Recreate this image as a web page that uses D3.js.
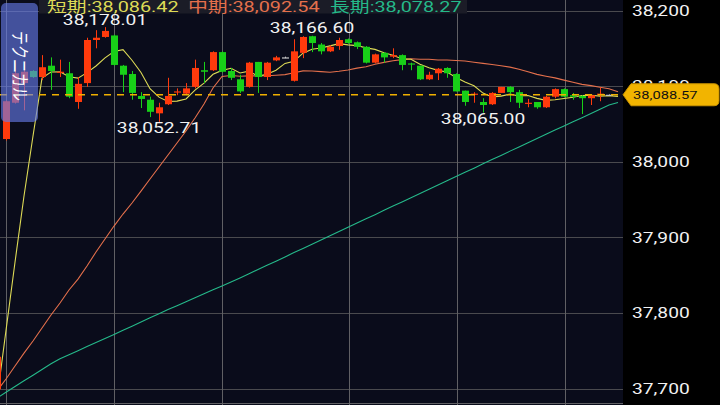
<!DOCTYPE html>
<html><head><meta charset="utf-8">
<script src="https://cdn.jsdelivr.net/npm/d3@7"></script>
<style>html,body{margin:0;padding:0;background:#000;overflow:hidden}svg{display:block}</style>
</head><body>
<svg id="c" width="720" height="405"></svg>
<script>
// ---- data ----
const opens = [37699, 38030, 38078, 38104, 38120, 38112, 38127, 38118, 38117, 38079,
 38104, 38161, 38165, 38167, 38127, 38116, 38087, 38082, 38064, 38076,
 38092, 38090, 38099, 38121, 38121, 38145, 38120, 38109, 38099, 38132,
 38112, 38134, 38138, 38107, 38144, 38166, 38155, 38146, 38153, 38162,
 38158, 38152, 38131, 38144, 38139, 38141, 38130, 38127, 38109, 38117,
 38124, 38116, 38094, 38089, 38079, 38076, 38091, 38099, 38092, 38077,
 38079, 38072, 38086, 38096, 38088, 38087, 38084, 38089, 38088.57];
const highs = [37746, 38081, 38131, 38131, 38121, 38141, 38138, 38135, 38132, 38112,
 38164, 38174, 38178.01, 38168, 38128, 38120, 38092, 38086, 38078, 38111,
 38097, 38104, 38135, 38132, 38146, 38146, 38124, 38115, 38132, 38132,
 38132, 38140, 38139, 38162, 38166, 38166.60, 38157, 38154, 38164, 38163,
 38159, 38153, 38143, 38145, 38150, 38142, 38131, 38127, 38119, 38124,
 38125, 38117, 38094, 38092, 38084, 38092, 38099, 38100, 38095, 38083,
 38079, 38087, 38097, 38097, 38091, 38088, 38088, 38098, 38089];
const lows = [37696, 38028, 38077, 38068, 38111, 38108, 38095, 38112, 38084, 38070,
 38099, 38150, 38164, 38127, 38092, 38082, 38071, 38059, 38052.71, 38075,
 38088, 38088, 38097, 38104, 38120, 38118, 38108, 38091, 38098, 38091,
 38108, 38133, 38137, 38106, 38137, 38145, 38142, 38145, 38148, 38156,
 38149, 38130, 38130, 38131, 38137, 38121, 38121, 38108, 38108, 38108,
 38111, 38093, 38074, 38078, 38065.00, 38075, 38091, 38079, 38071, 38072,
 38070, 38071, 38084, 38085, 38082, 38063, 38075, 38080, 38088];
const closes = [37742, 38080, 38117, 38119, 38112, 38125, 38120, 38119, 38086, 38103,
 38161, 38164, 38173, 38128, 38115, 38091, 38083, 38066, 38072, 38087,
 38093, 38097, 38124, 38119, 38145, 38119, 38111, 38093, 38131, 38112,
 38131, 38138, 38138, 38146, 38165, 38157, 38146, 38152, 38161, 38157,
 38152, 38131, 38142, 38138, 38141, 38128, 38129, 38109, 38115, 38123,
 38117, 38093, 38079, 38090, 38075, 38091, 38099, 38092, 38078, 38078,
 38072, 38086, 38096, 38086, 38086, 38084, 38088, 38090, 38088.57];
const maShort = [37686, 37777, 37867, 37954.6, 38034, 38110.6, 38118.6, 38119, 38112.4, 38110.6,
 38117.8, 38126.6, 38137.4, 38145.8, 38148.2, 38134.2, 38118, 38096.6, 38085.4, 38079.8,
 38080.2, 38083, 38094.6, 38104, 38115.6, 38120.8, 38123.6, 38117.4, 38119.8, 38113.2,
 38115.6, 38121, 38130, 38133, 38143.6, 38148.8, 38150.4, 38153.2, 38156.2, 38154.6,
 38153.6, 38150.6, 38148.6, 38144, 38140.8, 38136, 38135.6, 38129, 38124.4, 38120.8,
 38118.6, 38111.4, 38105.4, 38100.4, 38090.8, 38085.6, 38086.8, 38089.4, 38087, 38087.6,
 38083.8, 38081.2, 38082, 38083.6, 38085.2, 38087.6, 38088, 38086.8, 38087.3, 38086.42];
const maMid = [37696.7, 37712.6, 37729.8, 37746.9, 37762.8, 37780, 37797.2, 37813.1, 37830.3, 37844.8,
 37862, 37880.6, 37897.7, 37914.9, 37930.8, 37945.4, 37961.2, 37977.1, 37993, 38008.9,
 38024.7, 38040.6, 38057.8, 38076.3, 38097.5, 38112.7, 38114, 38113, 38113.5, 38113.5,
 38113.7, 38114.4, 38115.2, 38117.6, 38120.1, 38119.9, 38119.2, 38118.4, 38119.7, 38121.4,
 38123.8, 38125.7, 38128.8, 38131.4, 38133.6, 38135, 38136.2, 38135.6, 38135.5, 38134.6,
 38134.5, 38133.8, 38133.2, 38131.6, 38130.1, 38128.5, 38127, 38125.1, 38122.4, 38118.9,
 38115.5, 38113.1, 38110.9, 38107.9, 38105, 38102.3, 38100.6, 38098.5, 38096.5, 38092.54];
const maLong = [37687.4, 37695.1, 37702.6, 37710.2, 37717.6, 37725.1, 37732.7, 37739.5, 37744.8, 37750.1,
 37755.5, 37760.8, 37766.3, 37771.6, 37777.1, 37782.5, 37788, 37793.5, 37798.9, 37804.4,
 37809.6, 37814.8, 37820.1, 37825.3, 37830.5, 37835.7, 37841, 37846.2, 37851.7, 37857.4,
 37863, 37868.5, 37874.1, 37879.8, 37885.3, 37890.9, 37896.6, 37902.1, 37907.7, 37913.2,
 37918.9, 37924.5, 37930, 37935.7, 37941.3, 37946.8, 37952.4, 37958.1, 37963.6, 37969.2,
 37974.9, 37980.4, 37986, 37991.5, 37997.2, 38002.8, 38008.3, 38014, 38019.6, 38025.1,
 38030.7, 38036.4, 38041.9, 38047.4, 38052.9, 38058.3, 38063.9, 38069.3, 38074.9, 38078.27];
const yTicks = [37700, 37800, 37900, 38000, 38100, 38200];
const vGridIdx = [1, 13, 25, 39.1, 51.1, 63.1];
const legendLabels = ["短期", "中期", "長期"];
const legendValues = [38086.42, 38092.54, 38078.27];
const highMarkIdx = [12, 35];
const lowMarkIdx = [18, 54];
const lastPrice = 38088.57;
const tabLabel = "テクニカル";

// ---- layout / style ----
const W = 720, H = 405, PW = 623;
const SX = 1.28; // horizontal stretch of glyphs
const C = {bg:"#0a0c1b", axisBg:"#000", grid:"#4a4a4e", vgrid:"#606064", up:"#ff3a0c", down:"#18d018",
  flat:"#c8c8c8", short:"#dedb56", mid:"#e4704c", long:"#25b98a", text:"#f2f2f2", price:"#f2b400"};
const FONT = "Roboto, 'Noto Sans CJK JP', sans-serif";
const fmt = d3.format(",.2f"), fmt0 = d3.format(",");

const svg = d3.select("#c");
const x = d3.scaleLinear().domain([0, 69]).range([-3, 618]);
const y = d3.scaleLinear().domain([37678.2, 38213.9]).range([H, 0]);

svg.append("rect").attr("width", W).attr("height", H).attr("fill", C.axisBg);
svg.append("defs").append("clipPath").attr("id", "pc").append("rect").attr("width", PW).attr("height", H);
const plot = svg.append("g").attr("clip-path", "url(#pc)");
plot.append("rect").attr("width", PW).attr("height", H).attr("fill", C.bg);

// grid
plot.selectAll(".hg").data(yTicks).join("line")
  .attr("x1", 0).attr("x2", PW).attr("y1", d => Math.round(y(d)) + 0.5).attr("y2", d => Math.round(y(d)) + 0.5)
  .attr("stroke", C.grid).attr("stroke-width", 1.2);
plot.selectAll(".vg").data(vGridIdx).join("line")
  .attr("y1", 0).attr("y2", H).attr("x1", d => Math.round(x(d)) + 0.5).attr("x2", d => Math.round(x(d)) + 0.5)
  .attr("stroke", C.vgrid).attr("stroke-width", 1);
plot.append("line").attr("x1", 0).attr("x2", PW).attr("y1", 403.5).attr("y2", 403.5).attr("stroke", C.vgrid);

// moving averages
const line = d3.line().x((d, i) => x(i)).y(d => y(d));
[[maLong, C.long], [maMid, C.mid], [maShort, C.short]].forEach(([arr, col]) => {
  plot.append("path").attr("d", line(arr)).attr("fill", "none").attr("stroke", col).attr("stroke-width", 1.1);
});

// candles
const idx = d3.range(closes.length);
const colorOf = i => closes[i] > opens[i] ? C.up : closes[i] < opens[i] ? C.down : C.flat;
const cg = plot.append("g");
cg.selectAll(".w").data(idx).join("line")
  .attr("x1", i => Math.round(x(i)) + 0.5).attr("x2", i => Math.round(x(i)) + 0.5)
  .attr("y1", i => y(highs[i])).attr("y2", i => y(lows[i]))
  .attr("stroke", colorOf).attr("stroke-width", 1);
cg.selectAll(".b").data(idx).join("rect")
  .attr("x", i => Math.round(x(i)) - 3).attr("width", 7)
  .attr("y", i => y(Math.max(opens[i], closes[i])))
  .attr("height", i => Math.max(1.2, Math.abs(y(opens[i]) - y(closes[i]))))
  .attr("fill", colorOf);

// current price dashed line
plot.append("line").attr("x1", 0).attr("x2", PW).attr("y1", y(lastPrice)).attr("y2", y(lastPrice))
  .attr("stroke", "#f0b000").attr("stroke-width", 1.4).attr("stroke-dasharray", "7,6");

// text helper (glyphs are horizontally stretched in the reference)
function txt(g, px, py, s, size, col, anchor) {
  return g.append("text").attr("transform", `translate(${px},${py}) scale(${SX},1)`)
    .attr("font-family", FONT).attr("font-size", size).attr("fill", col)
    .attr("text-anchor", anchor || "start").text(s);
}
// high / low annotations
highMarkIdx.forEach(i => txt(plot, x(i), y(highs[i]) - 2.5, fmt(highs[i]), 15, C.text, "middle"));
lowMarkIdx.forEach(i => txt(plot, x(i), y(lows[i]) + 11.2, fmt(lows[i]), 15, C.text, "middle"));

// tab
plot.append("rect").attr("x", 1).attr("y", 3).attr("width", 37).attr("height", 119).attr("rx", 5)
  .attr("fill", "rgba(104,124,236,0.62)");
plot.append("text").attr("transform", `translate(19,66) scale(${SX},1) rotate(90)`)
  .attr("font-family", FONT).attr("font-size", 14).attr("fill", "#fff")
  .attr("text-anchor", "middle").attr("dominant-baseline", "central").text(tabLabel);

// legend
plot.append("rect").attr("x", 39).attr("y", 0).attr("width", 428).attr("height", 13.5).attr("fill", "#1b1c27");
const legX = [47, 188, 330], legCol = [C.short, C.mid, C.long];
legendLabels.forEach((l, k) => txt(plot, legX[k], 12, l + ":" + fmt(legendValues[k]), 15.5, legCol[k]));

// y axis labels
const ax = svg.append("g");
yTicks.forEach(v => txt(ax, 632, y(v) + 5.3, fmt0(v), 15, C.text));

// price tag
const py = y(lastPrice);
const tag = d3.path();
tag.moveTo(623, py); tag.lineTo(631, py - 11); tag.lineTo(714, py - 11);
tag.quadraticCurveTo(719, py - 11, 719, py - 6); tag.lineTo(719, py + 6);
tag.quadraticCurveTo(719, py + 11, 714, py + 11); tag.lineTo(631, py + 11); tag.closePath();
svg.append("path").attr("d", tag.toString()).attr("fill", C.price).attr("stroke", "#c89200").attr("stroke-width", 1);
txt(svg, 633, py + 4.2, fmt(lastPrice), 11.5, "#111");
</script>
</body></html>
